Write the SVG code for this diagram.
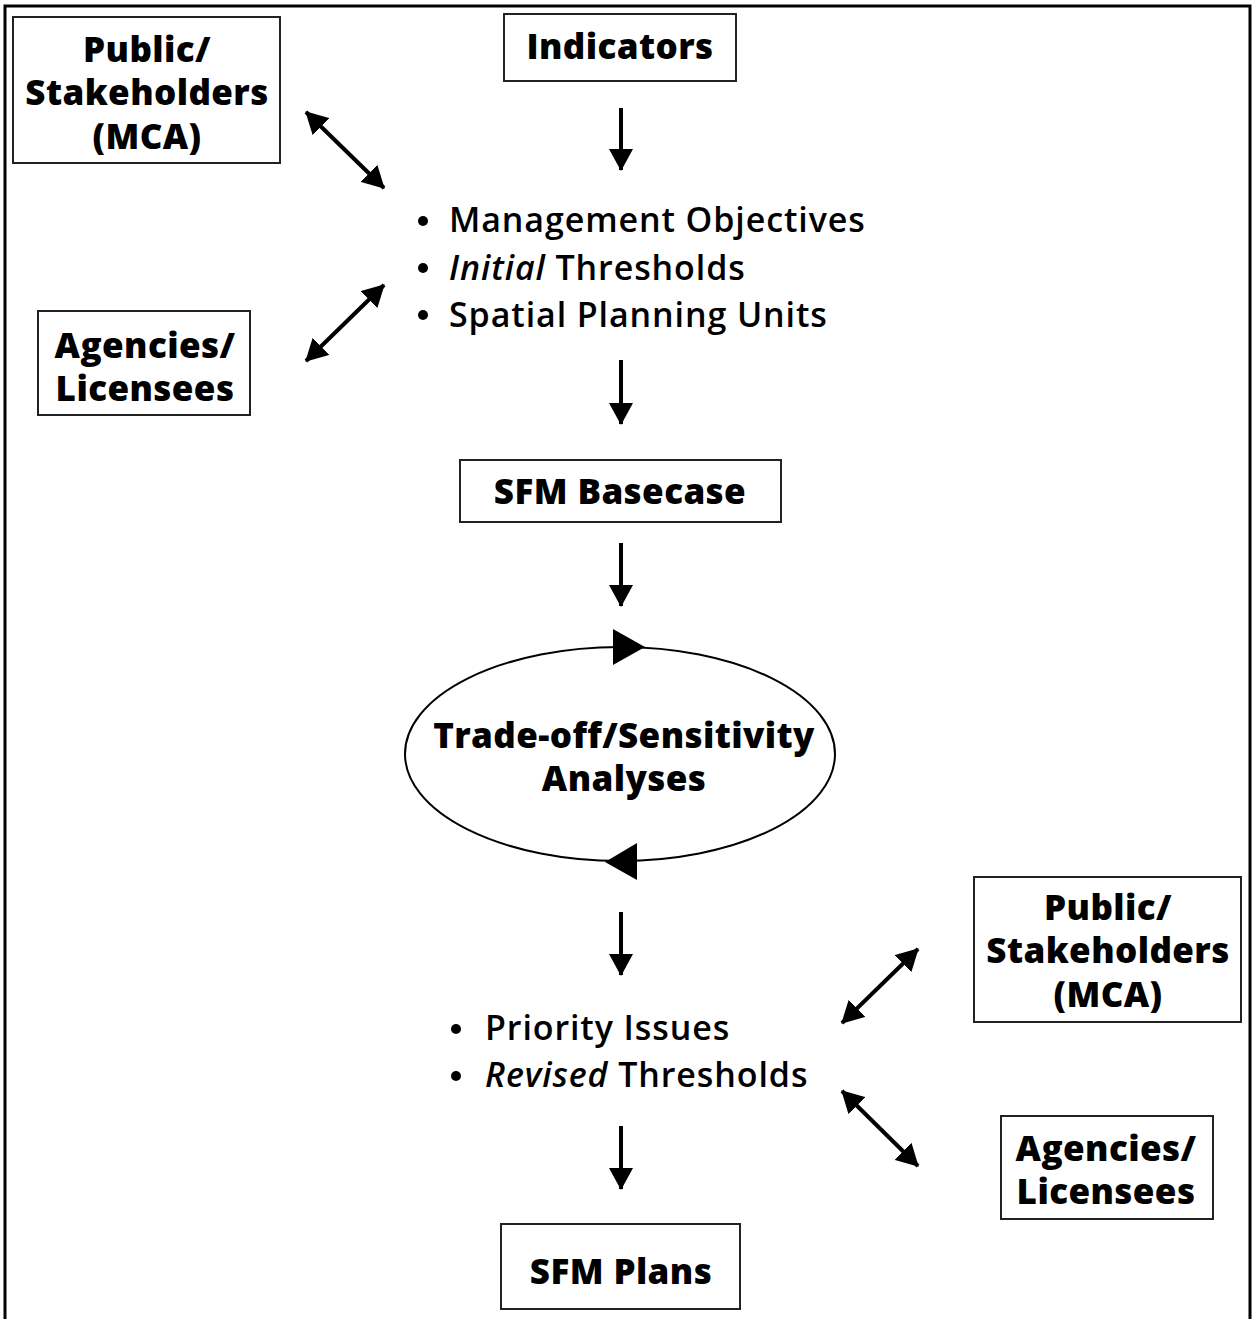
<svg xmlns="http://www.w3.org/2000/svg" width="1252" height="1319" viewBox="0 0 1252 1319">
<style>
.box{fill:#fff;stroke:#222;stroke-width:2}
.bt{font-family:"Open Sans",Lato,sans-serif;font-weight:800;font-size:35px;letter-spacing:0.4px;text-anchor:middle;fill:#000}
.lt{font-family:"Open Sans",Lato,sans-serif;font-weight:600;font-size:34px;letter-spacing:0.9px;fill:#000}
.c{stroke:#000;stroke-width:4;fill:none}
</style>
<defs>
<marker id="a" viewBox="0 0 22 24" refX="21" refY="12" markerWidth="22" markerHeight="24" markerUnits="userSpaceOnUse" orient="auto-start-reverse">
<path d="M0,0 L22,12 L0,24 z" fill="#000"/>
</marker>
</defs>
<rect x="0" y="0" width="1252" height="1319" fill="#fff"/>
<path d="M5,1319 V6 H1250 V1319" fill="none" stroke="#000" stroke-width="3"/>

<g id="pub1"><rect class="box" x="13" y="17" width="267" height="146"/>
<text class="bt" x="147" y="62">Public/</text><text class="bt" x="147" y="105">Stakeholders</text><text class="bt" x="147" y="149">(MCA)</text></g>
<g id="ind"><rect class="box" x="504" y="14" width="232" height="67"/><text class="bt" x="620" y="59">Indicators</text></g>
<g id="ag1"><rect class="box" x="38" y="311" width="212" height="104"/>
<text class="bt" x="145" y="358">Agencies/</text><text class="bt" x="145" y="401">Licensees</text></g>
<g id="list1">
<circle cx="423" cy="221" r="5"/><circle cx="423" cy="268" r="5"/><circle cx="423" cy="315" r="5"/>
<text class="lt" x="449" y="232">Management Objectives</text>
<text class="lt" x="449" y="280"><tspan font-style="italic">Initial</tspan> Thresholds</text>
<text class="lt" x="449" y="327">Spatial Planning Units</text>
</g>
<g id="base"><rect class="box" x="460" y="460" width="321" height="62"/><text class="bt" x="620" y="504">SFM Basecase</text></g>
<g id="ell"><ellipse cx="620" cy="754" rx="215" ry="107" fill="#fff" stroke="#000" stroke-width="2"/>
<path d="M613,629 L645,647 L613,665 z"/><path d="M605,862 L637,843 L637,880 z"/>
<text class="bt" x="624" y="748">Trade-off/Sensitivity</text><text class="bt" x="624" y="791">Analyses</text></g>
<g id="list2">
<circle cx="456" cy="1029" r="5"/><circle cx="456" cy="1076" r="5"/>
<text class="lt" x="485" y="1040">Priority Issues</text>
<text class="lt" x="485" y="1087"><tspan font-style="italic">Revised</tspan> Thresholds</text>
</g>
<g id="pub2"><rect class="box" x="974" y="877" width="267" height="145"/>
<text class="bt" x="1108" y="920">Public/</text><text class="bt" x="1108" y="963">Stakeholders</text><text class="bt" x="1108" y="1007">(MCA)</text></g>
<g id="ag2"><rect class="box" x="1001" y="1116" width="212" height="103"/>
<text class="bt" x="1106" y="1161">Agencies/</text><text class="bt" x="1106" y="1204">Licensees</text></g>
<g id="plans"><rect class="box" x="501" y="1224" width="239" height="85"/><text class="bt" x="621" y="1284">SFM Plans</text></g>

<g id="connectors">
<line class="c" x1="621" y1="108" x2="621" y2="170" marker-end="url(#a)"/>
<line class="c" x1="621" y1="360" x2="621" y2="424" marker-end="url(#a)"/>
<line class="c" x1="621" y1="543" x2="621" y2="606" marker-end="url(#a)"/>
<line class="c" x1="621" y1="912" x2="621" y2="975" marker-end="url(#a)"/>
<line class="c" x1="621" y1="1126" x2="621" y2="1189" marker-end="url(#a)"/>
<line class="c" x1="306" y1="112" x2="384" y2="188" marker-start="url(#a)" marker-end="url(#a)"/>
<line class="c" x1="306" y1="361" x2="384" y2="285" marker-start="url(#a)" marker-end="url(#a)"/>
<line class="c" x1="842" y1="1023" x2="918" y2="949" marker-start="url(#a)" marker-end="url(#a)"/>
<line class="c" x1="842" y1="1091" x2="918" y2="1166" marker-start="url(#a)" marker-end="url(#a)"/>
</g>
</svg>
